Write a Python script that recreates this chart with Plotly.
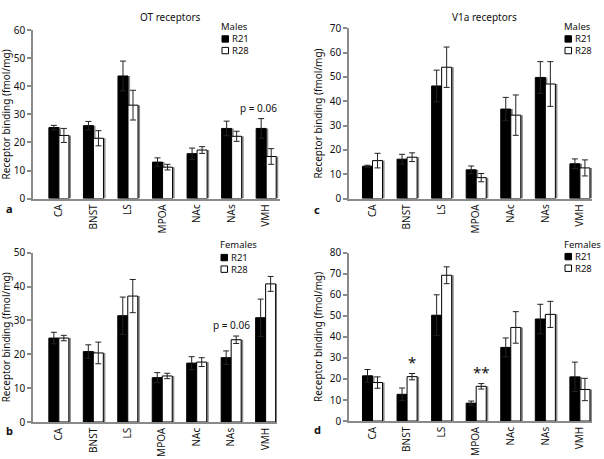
import plotly.graph_objects as go

W, H = 604, 459

regions = ["CA", "BNST", "LS", "MPOA", "NAc", "NAs", "VMH"]

# Panel a: OT receptors, males
ot_m_r21 = [25.3, 26.0, 43.7, 13.0, 16.0, 25.0, 25.0]
ot_m_r21_err = [0.8, 1.5, 5.3, 1.5, 2.0, 2.6, 3.5]
ot_m_r28 = [22.5, 21.5, 33.3, 11.2, 17.3, 22.2, 15.0]
ot_m_r28_err = [2.5, 2.7, 5.3, 1.0, 1.2, 1.8, 2.8]

# Panel b: OT receptors, females
ot_f_r21 = [24.8, 20.8, 31.4, 13.1, 17.4, 19.0, 30.8]
ot_f_r21_err = [1.7, 2.0, 5.5, 1.5, 1.9, 2.0, 5.5]
ot_f_r28 = [24.8, 20.4, 37.2, 13.6, 17.7, 24.3, 40.8]
ot_f_r28_err = [0.8, 3.2, 4.9, 0.8, 1.3, 1.1, 2.2]

# Panel c: V1a receptors, males
v1a_m_r21 = [13.3, 16.2, 46.3, 11.8, 36.8, 49.8, 14.3]
v1a_m_r21_err = [0.4, 2.0, 6.5, 1.6, 4.8, 6.5, 2.0]
v1a_m_r28 = [15.6, 17.0, 54.0, 8.6, 34.3, 47.1, 12.6]
v1a_m_r28_err = [3.0, 1.8, 8.3, 1.7, 8.3, 9.2, 3.3]

# Panel d: V1a receptors, females
v1a_f_r21 = [21.5, 12.7, 50.3, 8.5, 35.0, 48.5, 21.0]
v1a_f_r21_err = [3.0, 3.0, 9.7, 1.0, 4.5, 7.0, 7.0]
v1a_f_r28 = [18.3, 21.1, 69.3, 16.5, 44.5, 50.7, 15.0]
v1a_f_r28_err = [2.7, 1.5, 4.0, 1.3, 7.5, 6.2, 5.3]

FONT = "Noto Sans"
FS = 10
LFS = 9.5
AX_COL = "#8a8a8a"

def px(x):
    return x / W

def py(y):
    return 1 - y / H

panels = [
    dict(name="a", r21=ot_m_r21, e21=ot_m_r21_err, r28=ot_m_r28, e28=ot_m_r28_err,
         x0=33, x1=280, yt=23, yb=197, ymax=60, xr=[-0.75, 6.4], sex="Males", lx=222, ly=19,
         letter=(4, 207), ytitle_x=6),
    dict(name="b", r21=ot_f_r21, e21=ot_f_r21_err, r28=ot_f_r28, e28=ot_f_r28_err,
         x0=33, x1=277, yt=253, yb=428, ymax=50, xr=[-0.75, 6.33], sex="Females", lx=221, ly=245,
         letter=(4, 437), ytitle_x=6),
    dict(name="c", r21=v1a_m_r21, e21=v1a_m_r21_err, r28=v1a_m_r28, e28=v1a_m_r28_err,
         x0=349, x1=592, yt=21, yb=197, ymax=70, xr=[-0.68, 6.35], sex="Males", lx=565, ly=19,
         letter=(312, 208), ytitle_x=318),
    dict(name="d", r21=v1a_f_r21, e21=v1a_f_r21_err, r28=v1a_f_r28, e28=v1a_f_r28_err,
         x0=349, x1=592, yt=253, yb=427, ymax=80, xr=[-0.68, 6.35], sex="Females", lx=565, ly=244,
         letter=(312, 436), ytitle_x=318),
]

fig = go.Figure()
annotations = []
shapes = []

BW = 0.29
SH = 0.06

for i, p in enumerate(panels):
    n = "" if i == 0 else str(i + 1)
    xa, ya = "x" + n, "y" + n
    for vals, off in ((p["r21"], -BW), (p["r28"], 0.0)):
        fig.add_trace(go.Bar(x=regions, y=vals, xaxis=xa, yaxis=ya, width=BW, offset=off + SH,
                             marker=dict(color="#8c8c8c", line=dict(width=0)),
                             showlegend=False, hoverinfo="skip"))
    fig.add_trace(go.Bar(x=regions, y=p["r21"], xaxis=xa, yaxis=ya, width=BW, offset=-BW,
                         name="R21", showlegend=False,
                         marker=dict(color="black", line=dict(color="black", width=1)),
                         error_y=dict(type="data", array=p["e21"], visible=True,
                                      color="#222222", thickness=1, width=3)))
    fig.add_trace(go.Bar(x=regions, y=p["r28"], xaxis=xa, yaxis=ya, width=BW, offset=0.0,
                         name="R28", showlegend=False,
                         marker=dict(color="white", line=dict(color="black", width=1)),
                         error_y=dict(type="data", array=p["e28"], visible=True,
                                      color="#222222", thickness=1, width=3)))
    dom_x = [px(p["x0"]), px(p["x1"])]
    dom_y = [py(p["yb"]), py(p["yt"])]
    fig.layout["xaxis" + n] = dict(domain=dom_x, anchor=ya, range=p["xr"], showline=True,
                                   linecolor=AX_COL, linewidth=1.5, ticks="", tickangle=-90,
                                   tickfont=dict(family=FONT, size=FS, color="#111"),
                                   showgrid=False, zeroline=False, fixedrange=True)
    fig.layout["yaxis" + n] = dict(domain=dom_y, anchor=xa, range=[0, p["ymax"]], dtick=10,
                                   showline=True, linecolor=AX_COL, linewidth=1.5,
                                   ticks="outside", ticklen=4, tickcolor=AX_COL, tickwidth=1.5,
                                   tickfont=dict(family=FONT, size=FS, color="#111"),
                                   showgrid=False, zeroline=False, fixedrange=True)
    annotations.append(dict(text="Receptor binding (fmol/mg)", x=px(p["ytitle_x"]),
                            y=(dom_y[0] + dom_y[1]) / 2, xref="paper", yref="paper",
                            textangle=-90, showarrow=False, xanchor="center", yanchor="middle",
                            font=dict(family=FONT, size=FS, color="#111")))
    annotations.append(dict(text="<b>" + p["name"] + "</b>", x=px(p["letter"][0]),
                            y=py(p["letter"][1]), xref="paper", yref="paper", showarrow=False,
                            xanchor="left", yanchor="middle",
                            font=dict(family=FONT, size=11, color="#111")))
    lx, ly = p["lx"], p["ly"]
    annotations.append(dict(text=p["sex"], x=px(lx - 2), y=py(ly), xref="paper", yref="paper",
                            showarrow=False, xanchor="left", yanchor="middle",
                            height=11, borderpad=0,
                            font=dict(family=FONT, size=LFS, color="#111")))
    for k, (lab, fill) in enumerate((("R21", "black"), ("R28", "white"))):
        cy = ly + 13 + 12 * k
        shapes.append(dict(type="rect", xref="paper", yref="paper",
                           x0=px(lx), x1=px(lx + 6.5), y0=py(cy + 3.3), y1=py(cy - 3.3),
                           fillcolor=fill, line=dict(color="black", width=1)))
        annotations.append(dict(text=lab, x=px(lx + 9), y=py(cy), xref="paper", yref="paper",
                                showarrow=False, xanchor="left", yanchor="middle",
                                height=11, borderpad=0,
                                font=dict(family=FONT, size=LFS, color="#111")))

annotations.append(dict(text="OT receptors", x=px(170), y=py(9), xref="paper", yref="paper",
                        showarrow=False, xanchor="center", yanchor="middle",
                        font=dict(family=FONT, size=FS, color="#111")))
annotations.append(dict(text="V1a receptors", x=px(484), y=py(9), xref="paper", yref="paper",
                        showarrow=False, xanchor="center", yanchor="middle",
                        font=dict(family=FONT, size=FS, color="#111")))

annotations.append(dict(text="p = 0.06", x="VMH", y=32.4, xref="x", yref="y", xshift=-8,
                        showarrow=False, font=dict(family=FONT, size=FS, color="#111")))
annotations.append(dict(text="p = 0.06", x="NAs", y=28.6, xref="x2", yref="y2",
                        showarrow=False, font=dict(family=FONT, size=FS, color="#111")))
annotations.append(dict(text="*", x="BNST", y=28, xref="x4", yref="y4", xshift=5,
                        showarrow=False, font=dict(family=FONT, size=15, color="#111")))
annotations.append(dict(text="**", x="MPOA", y=23.4, xref="x4", yref="y4", xshift=5,
                        showarrow=False, font=dict(family=FONT, size=15, color="#111")))

fig.update_layout(width=W, height=H, autosize=False, margin=dict(l=0, r=0, t=0, b=0),
                  plot_bgcolor="white", paper_bgcolor="white", barmode="overlay",
                  annotations=annotations, shapes=shapes, showlegend=False,
                  font=dict(family=FONT, size=FS, color="#111"))

fig.write_html("out.html", config={"displayModeBar": False},
               post_script="document.body.style.margin='0';document.body.style.padding='0';")
